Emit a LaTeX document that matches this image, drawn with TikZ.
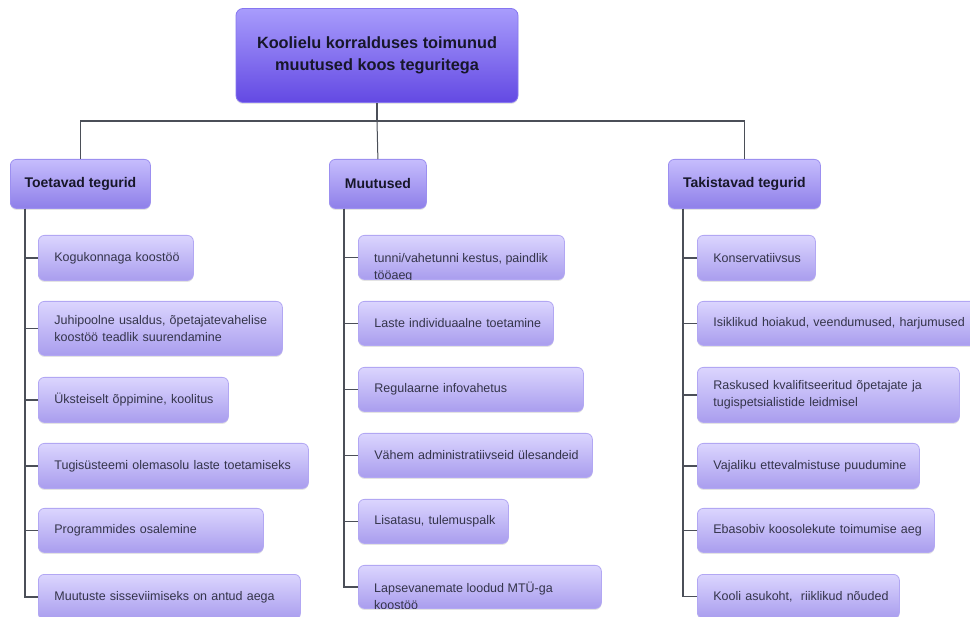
\documentclass[tikz,border=0pt]{standalone}
\usepackage{fontspec}
\setmainfont{Liberation Sans}
\usetikzlibrary{shadows,calc}
\definecolor{rootTop}{HTML}{A89CFC}
\definecolor{rootBot}{HTML}{6349E3}
\definecolor{rootBorder}{HTML}{8676F0}
\definecolor{catTop}{HTML}{C6BDFD}
\definecolor{catBot}{HTML}{8E7FE9}
\definecolor{catBorder}{HTML}{9C8FF0}
\definecolor{childTop}{HTML}{DBD5FE}
\definecolor{childBot}{HTML}{A99DEE}
\definecolor{childBorder}{HTML}{B2A7F3}
\definecolor{lineC}{HTML}{4B4F58}
\definecolor{childText}{HTML}{34344A}
\definecolor{headText}{HTML}{17172A}
\begin{document}
\begin{tikzpicture}[x=1pt,y=-1pt,
  shadowed/.style={drop shadow={opacity=0.22,shadow xshift=0pt,shadow yshift=-1.5pt}},
  rootbox/.style={draw=rootBorder, line width=0.8pt, rounded corners=7pt, top color=rootTop, bottom color=rootBot, shadowed, inner sep=0pt, align=center, font=\bfseries\fontsize{16.3}{22}\selectfont, text=headText},
  catbox/.style={draw=catBorder, line width=0.8pt, rounded corners=6pt, top color=catTop, bottom color=catBot, shadowed, anchor=north west, inner sep=0pt, align=center, font=\bfseries\fontsize{14}{17}\selectfont, text=headText},
  child/.style={draw=childBorder, line width=0.8pt, rounded corners=6pt, top color=childTop, bottom color=childBot, shadowed, anchor=north west, inner xsep=0pt, inner ysep=0pt, font=\fontsize{12.5}{17}\selectfont, text=childText,
    execute at begin node={\leftskip=16pt\rightskip=0pt plus 1fil\parfillskip=0pt plus 1fil\hbadness=10000}},
  childtxt/.style={anchor=base west, inner sep=0pt, font=\fontsize{12.5}{17}\selectfont, text=childText},
  conn/.style={draw=lineC, line width=1.6pt},
  trunk/.style={draw=lineC, line width=1.3pt},
]
\path[use as bounding box] (0,0) rectangle (970,617);

% root
\node[rootbox, minimum width=282pt, minimum height=94pt] (root) at (377,55.5) {Koolielu korralduses toimunud\\muutused koos teguritega};

% categories
\node[catbox, minimum width=140pt, minimum height=49pt] (cL) at (10,159) {Toetavad tegurid};
\node[catbox, minimum width=97pt, minimum height=49pt] (cM) at (329,159) {Muutused};
\node[catbox, minimum width=152pt, minimum height=49pt] (cR) at (668,159) {Takistavad tegurid};

% root connectors
\coordinate (hub) at (377,121);
\draw[conn] (root.south) -- (hub);
\draw[conn] (hub) -| (cL.north);
\draw[conn] (hub) -| (cR.north);
\draw[draw=lineC, line width=1pt] (hub) -- (cM.north);
\draw[draw=lineC, line width=1pt] ($(cL.north)+(0,-38)$) -- (cL.north);
\draw[draw=lineC, line width=1pt] ($(cR.north)+(0,-38)$) -- (cR.north);

% left children
\node[child, text width=155pt, minimum height=45pt] (l1) at (38,235) {Kogukonnaga koostöö};
\node[child, text width=244pt, minimum height=54pt] (l2) at (38,301) {Juhipoolne usaldus, õpetajatevahelise\\koostöö teadlik suurendamine};
\node[child, text width=190pt, minimum height=45pt] (l3) at (38,377) {Üksteiselt õppimine, koolitus};
\node[child, text width=270pt, minimum height=45pt] (l4) at (38,443) {Tugisüsteemi olemasolu laste toetamiseks};
\node[child, text width=225pt, minimum height=44pt] (l5) at (38,508) {Programmides osalemine};
\node[child, text width=262pt, minimum height=45pt] (l6) at (38,574) {Muutuste sisseviimiseks on antud aega};

% middle children
\node[child, text width=206pt, minimum height=44pt] (m1) at (358,235) {};
\begin{scope}
  \clip[rounded corners=6pt] (m1.north west) rectangle (m1.south east);
  \node[childtxt] (m1a) at (374,263) {tunni/vahetunni kestus, paindlik};
  \node[childtxt] (m1b) at (374,280) {tööaeg};
\end{scope}
\node[child, text width=195pt, minimum height=44pt] (m2) at (358,301) {Laste individuaalne toetamine};
\node[child, text width=225pt, minimum height=44pt] (m3) at (358,367) {Regulaarne infovahetus};
\node[child, text width=234pt, minimum height=44pt] (m4) at (358,433) {Vähem administratiivseid ülesandeid};
\node[child, text width=150pt, minimum height=44pt] (m5) at (358,499) {Lisatasu, tulemuspalk};
\node[child, text width=243pt, minimum height=43pt] (m6) at (358,565) {};
\begin{scope}
  \clip[rounded corners=6pt] (m6.north west) rectangle (m6.south east);
  \node[childtxt] (m6a) at (374,592) {Lapsevanemate loodud MTÜ-ga};
  \node[childtxt] (m6b) at (374,609) {koostöö};
\end{scope}

% right children
\node[child, text width=118pt, minimum height=45pt] (r1) at (697,235) {Konservatiivsus};
\node[child, text width=282pt, minimum height=44pt] (r2) at (697,301) {Isiklikud hoiakud, veendumused, harjumused};
\node[child, text width=262pt, minimum height=55pt] (r3) at (697,367) {Raskused kvalifitseeritud õpetajate ja\\tugispetsialistide leidmisel};
\node[child, text width=222pt, minimum height=45pt] (r4) at (697,443) {Vajaliku ettevalmistuse puudumine};
\node[child, text width=237pt, minimum height=44pt] (r5) at (697,508) {Ebasobiv koosolekute toimumise aeg};
\node[child, text width=202pt, minimum height=44pt] (r6) at (697,574) {Kooli asukoht,\ \ riiklikud nõuded};

% trunks
\coordinate (tL) at ($(cL.south west)+(15,0)$);
\coordinate (tM) at ($(cM.south west)+(15,0)$);
\coordinate (tR) at ($(cR.south west)+(15,0)$);
\foreach \n in {l1,l2,l3,l4,l5,l6} \draw[trunk] (tL) |- (\n.west);
\foreach \n in {m1,m2,m3,m4,m5,m6} \draw[trunk] (tM) |- (\n.west);
\foreach \n in {r1,r2,r3,r4,r5,r6} \draw[trunk] (tR) |- (\n.west);
\end{tikzpicture}
\end{document}
